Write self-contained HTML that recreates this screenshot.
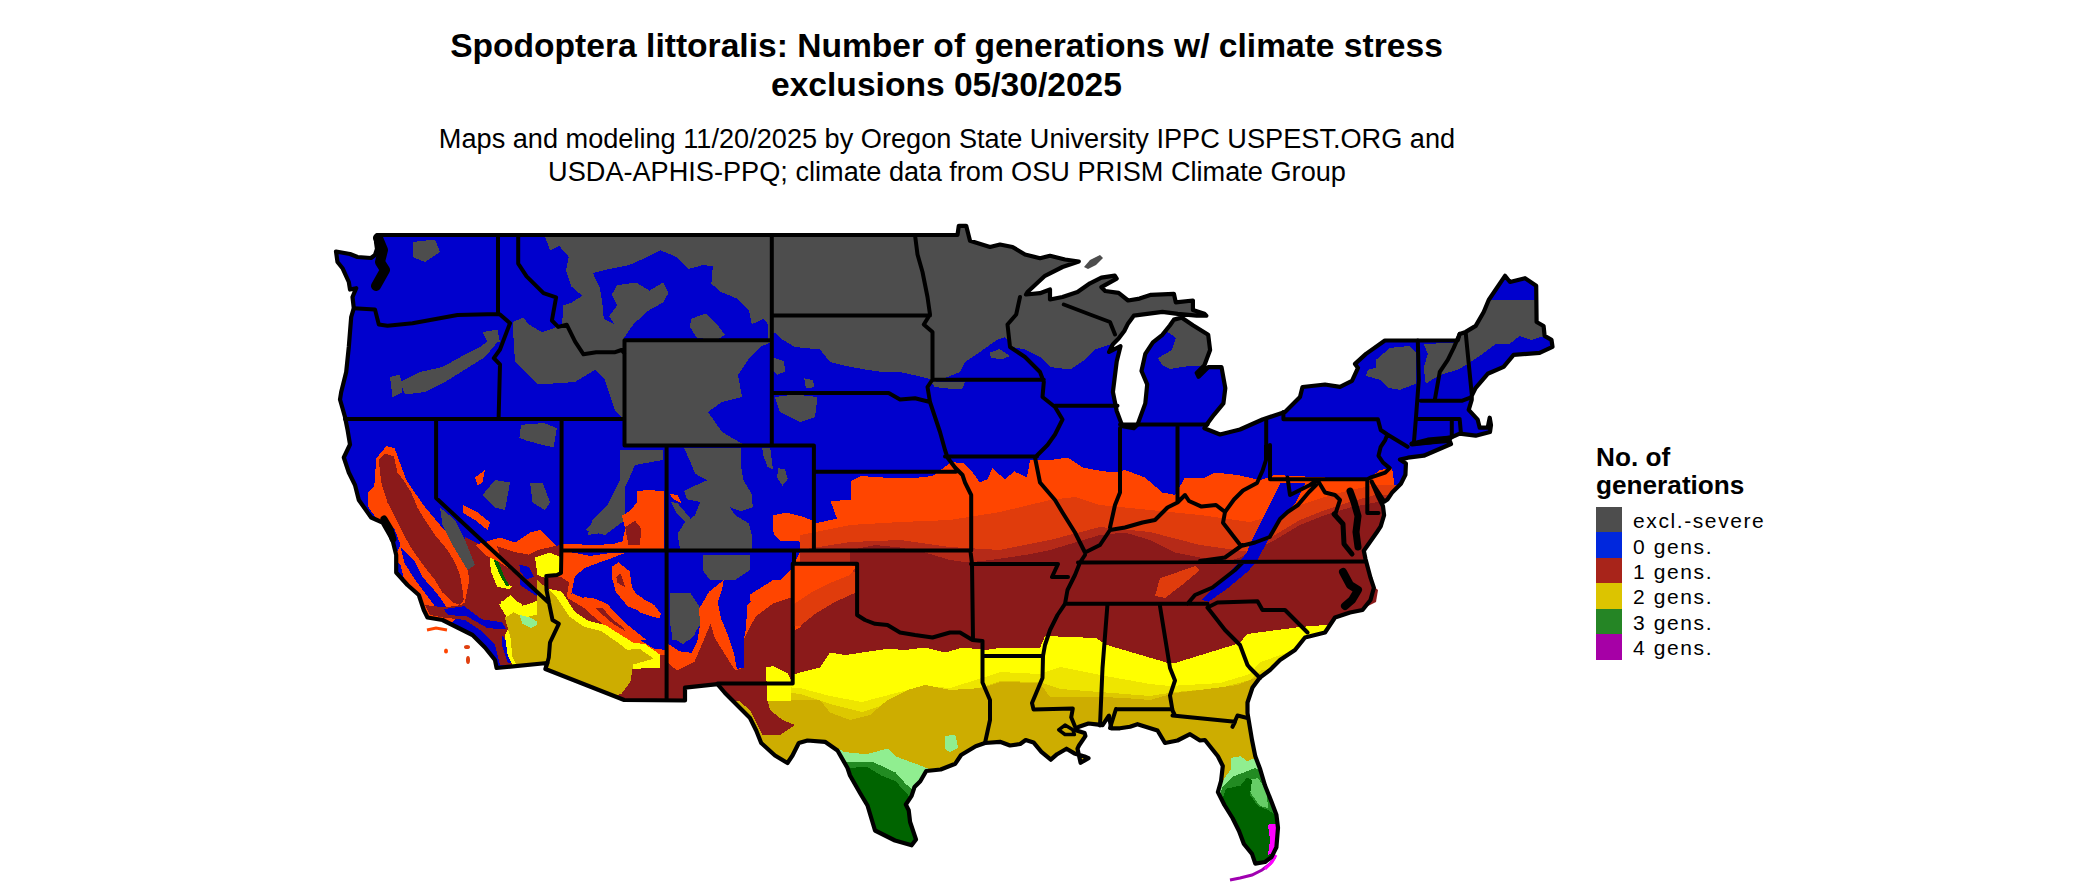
<!DOCTYPE html>
<html><head><meta charset="utf-8">
<style>
html,body{margin:0;padding:0;background:#fff;width:2100px;height:892px;overflow:hidden;position:relative}
.t{position:absolute;font-family:"Liberation Sans",sans-serif;white-space:nowrap;color:#000;line-height:1}
.title{font-weight:bold;font-size:33.6px;left:0;width:1893px;text-align:center}
.sub{font-size:27.15px;left:0;width:1894px;text-align:center}
.lt{font-weight:bold;font-size:26.2px;left:1596px}
.lab{font-size:21px;left:1633px;letter-spacing:1.6px}
.sw{position:absolute;left:1596px;width:26px;height:25.6px}
</style></head><body>
<svg width="2100" height="892" viewBox="0 0 2100 892" style="position:absolute;left:0;top:0">
<defs><clipPath id="land"><path d="M336.0,251.5 L350.0,254.0 L357.5,257.0 L371.0,258.0 L375.0,255.0 L377.0,249.0 L376.0,242.0 L377.0,235.0 L957.5,235.0 L958.8,225.8 L966.2,225.8 L970.0,240.8 L990.0,247.0 L1000.0,244.5 L1012.5,247.0 L1025.0,254.5 L1040.0,258.2 L1050.0,255.8 L1065.0,259.5 L1078.8,261.5 L1062.5,267.0 L1045.0,275.8 L1027.5,292.0 L1026.0,294.5 L1040.0,293.2 L1050.0,289.5 L1050.0,299.5 L1062.5,297.0 L1077.5,292.0 L1090.0,283.3 L1101.4,277.6 L1114.8,275.7 L1116.7,278.6 L1101.4,287.2 L1105.2,291.0 L1118.6,292.9 L1128.1,300.5 L1139.6,298.6 L1151.0,294.8 L1173.9,293.8 L1175.8,302.4 L1192.9,300.5 L1192.9,310.0 L1204.4,313.8 L1206.3,315.7 L1196.7,315.7 L1177.7,313.8 L1162.4,311.9 L1147.2,313.8 L1133.8,315.7 L1128.1,323.4 L1124.3,331.0 L1118.6,338.6 L1112.9,344.3 L1109.1,352.0 L1120.5,346.2 L1116.7,361.5 L1114.8,376.7 L1112.9,392.0 L1116.7,411.0 L1122.4,426.3 L1133.8,428.2 L1137.6,424.4 L1145.3,403.4 L1147.2,384.4 L1141.5,371.0 L1145.3,353.9 L1152.9,342.4 L1162.4,334.8 L1170.0,325.3 L1173.9,319.6 L1181.5,317.6 L1192.9,325.3 L1208.2,334.8 L1210.1,350.0 L1204.4,365.3 L1196.7,372.9 L1198.6,376.7 L1208.2,367.2 L1221.5,367.2 L1225.3,388.2 L1223.4,403.4 L1213.9,414.8 L1208.2,422.5 L1204.4,428.2 L1220.0,434.5 L1240.0,429.5 L1262.5,419.5 L1285.0,412.0 L1300.0,397.0 L1302.5,387.0 L1325.0,384.5 L1340.0,386.8 L1352.0,380.8 L1358.0,367.9 L1355.0,363.9 L1366.0,353.9 L1384.9,340.5 L1457.7,340.5 L1459.7,333.9 L1465.7,331.9 L1475.7,325.9 L1483.7,312.0 L1488.7,300.0 L1505.0,275.8 L1510.0,282.0 L1525.0,278.2 L1536.2,285.8 L1536.6,322.0 L1543.6,326.0 L1544.6,335.9 L1551.5,339.9 L1552.5,346.9 L1539.6,352.9 L1513.6,354.9 L1503.6,366.9 L1487.7,373.8 L1475.7,387.8 L1471.7,395.8 L1471.7,399.8 L1468.7,409.8 L1477.7,419.7 L1479.7,427.7 L1487.7,427.7 L1489.7,417.7 L1491.0,425.0 L1490.0,432.0 L1475.7,435.7 L1459.7,433.7 L1450.8,437.7 L1427.8,439.7 L1411.8,443.7 L1449.8,441.0 L1451.0,444.0 L1423.8,455.7 L1407.9,457.7 L1399.9,459.6 L1405.9,463.6 L1405.4,474.8 L1400.9,483.8 L1391.9,492.8 L1387.4,499.5 L1384.1,501.7 L1378.5,492.8 L1374.0,486.0 L1371.7,481.6 L1374.0,487.0 L1378.5,497.3 L1383.0,506.2 L1384.1,515.2 L1380.7,526.4 L1377.0,532.0 L1363.8,550.8 L1365.5,559.0 L1370.5,577.7 L1373.9,587.8 L1370.5,600.0 L1362.5,610.0 L1350.0,612.5 L1335.0,617.5 L1325.0,632.5 L1315.0,635.0 L1305.0,637.5 L1295.0,650.0 L1280.0,660.0 L1270.0,670.0 L1260.0,677.5 L1252.5,687.5 L1247.5,702.5 L1247.5,713.0 L1252.0,740.0 L1255.3,756.3 L1260.2,769.3 L1265.0,785.5 L1271.5,801.8 L1276.4,814.8 L1278.0,827.8 L1276.4,847.3 L1271.5,857.1 L1265.0,862.0 L1255.3,863.6 L1252.0,853.8 L1243.9,844.0 L1239.0,831.0 L1232.5,818.0 L1224.4,805.0 L1217.9,792.0 L1221.1,780.7 L1222.8,766.0 L1217.9,756.3 L1204.9,740.0 L1200.0,740.5 L1190.0,734.2 L1177.5,740.5 L1165.0,743.0 L1157.5,730.5 L1137.5,724.2 L1130.0,726.7 L1119.9,728.3 L1111.3,728.3 L1108.9,715.7 L1102.6,725.1 L1096.3,724.3 L1088.5,723.5 L1079.0,726.7 L1075.0,730.0 L1084.6,733.0 L1085.4,736.1 L1079.0,745.5 L1077.5,748.7 L1080.6,762.8 L1088.5,758.1 L1084.6,756.5 L1074.4,753.4 L1066.5,748.7 L1057.1,754.2 L1050.8,759.7 L1041.4,751.8 L1033.5,742.4 L1025.7,740.0 L1020.2,744.0 L1010.0,745.5 L1000.0,741.8 L985.0,743.0 L975.7,746.2 L961.1,755.0 L955.3,763.7 L940.7,769.5 L926.2,771.0 L920.3,781.2 L914.5,787.0 L911.6,795.8 L905.8,804.5 L908.7,810.3 L910.1,822.0 L916.0,839.5 L911.6,845.3 L895.0,840.5 L875.0,830.5 L867.5,805.5 L860.0,793.0 L850.0,775.5 L847.5,768.0 L837.5,750.5 L825.0,741.8 L807.5,740.5 L798.8,743.0 L792.5,755.5 L787.5,763.0 L775.0,755.5 L761.2,743.0 L756.2,730.5 L750.0,718.0 L737.5,705.5 L725.0,693.0 L717.5,684.2 L685.0,687.7 L685.0,700.5 L624.2,700.0 L545.4,669.0 L547.3,663.0 L496.6,668.0 L495.0,660.0 L485.0,647.5 L472.5,635.0 L457.5,627.5 L442.5,620.0 L427.5,617.5 L423.8,610.0 L418.8,595.0 L407.5,585.0 L396.2,572.5 L396.2,555.0 L392.5,540.0 L382.5,522.5 L371.2,517.5 L358.8,500.0 L355.0,485.0 L348.8,472.5 L343.8,457.5 L350.0,444.5 L347.5,429.5 L345.0,417.0 L340.0,399.5 L341.2,392.0 L346.2,372.0 L348.8,347.0 L351.2,317.0 L353.8,308.2 L352.5,297.0 L356.2,288.2 L350.0,289.5 L348.8,282.0 L342.5,268.2 L337.5,262.0 Z"/></clipPath></defs>
<path d="M1084,267 L1090,260 L1100,255 L1103,258 L1096,265 L1088,269 Z" fill="#4d4d4d"/><path d="M1230,880 L1240,878 L1252,875 L1262,870 L1270,864 L1275,857" fill="none" stroke="#a000b0" stroke-width="3"/><path d="M1265,869 L1272,862 L1276,855" fill="none" stroke="#ff00ff" stroke-width="3"/><path d="M427,630 L436,628 L447,630" fill="none" stroke="#ff4500" stroke-width="3"/><ellipse cx="446" cy="651" rx="2" ry="2.5" fill="#ff4500"/><ellipse cx="467" cy="647" rx="3" ry="2" fill="#e04010"/><ellipse cx="468" cy="660" rx="2" ry="4" fill="#e04010"/><path d="M1372,585 L1378,590 L1376,602 L1368,606 Z" fill="#8b1a1a"/>
<g clip-path="url(#land)" shape-rendering="crispEdges">
<rect x="300" y="200" width="1300" height="700" fill="#0000cd"/>
<path d="M530.0,220.0 L1100.0,220.0 L1210.0,300.0 L1215.0,330.0 L1212.0,352.0 L1204.0,366.0 L1189.0,366.0 L1170.0,369.0 L1162.0,365.0 L1158.0,358.0 L1172.0,350.0 L1176.0,338.0 L1165.0,330.0 L1150.0,330.0 L1135.0,345.0 L1115.0,342.0 L1110.0,344.5 L1095.0,349.5 L1085.0,359.5 L1070.0,369.5 L1050.0,367.0 L1040.0,357.0 L1025.0,349.5 L1012.5,347.0 L1005.0,337.0 L997.5,339.5 L980.0,352.0 L965.0,362.0 L960.0,372.0 L935.0,382.0 L927.5,378.2 L900.0,372.0 L882.5,372.0 L865.0,369.5 L845.0,365.8 L830.0,362.0 L820.0,349.5 L795.0,347.0 L782.5,339.5 L773.8,332.0 L771.2,342.0 L760.0,347.0 L748.0,360.0 L738.0,375.0 L742.0,397.0 L722.0,402.0 L708.0,412.0 L722.0,432.0 L745.0,445.4 L624.5,445.4 L624.5,420.0 L615.0,410.0 L605.0,380.0 L595.0,370.0 L575.0,382.0 L537.5,384.5 L515.0,362.0 L512.5,322.0 L530.0,315.0 L545.0,300.0 L540.0,270.0 Z" fill="#4d4d4d"/><path d="M517.7,235.4 L544.6,235.4 L550.0,250.2 L559.4,246.1 L568.8,256.9 L566.1,270.4 L571.5,286.5 L582.3,295.9 L571.5,302.6 L563.4,305.3 L562.1,324.2 L554.0,328.2 L541.9,332.2 L528.5,324.2 L517.7,310.7 Z" fill="#0000cd"/><path d="M593.0,273.1 L609.2,269.0 L629.4,265.0 L644.2,258.3 L660.3,250.2 L676.4,256.9 L688.6,269.0 L703.3,265.0 L712.8,266.3 L711.4,283.8 L720.8,291.9 L737.0,298.6 L749.1,310.7 L751.8,324.2 L763.9,318.8 L767.9,324.2 L767.9,340.3 L622.6,340.3 L633.4,324.2 L648.2,310.7 L663.0,302.6 L668.4,293.2 L663.0,282.5 L649.5,290.5 L636.1,282.5 L617.2,285.2 L611.9,294.6 L617.2,305.3 L609.2,316.1 L614.6,324.2 L603.8,318.8 L602.4,304.0 L599.8,287.9 L595.7,279.8 Z" fill="#0000cd"/><path d="M691.2,318.8 L706.0,313.4 L716.8,324.2 L724.9,334.9 L716.8,340.3 L696.6,337.6 L689.9,326.9 Z" fill="#4d4d4d"/><path d="M400.0,382.0 L420.0,372.0 L442.5,367.0 L465.0,354.5 L480.0,347.0 L490.0,339.5 L497.5,342.0 L485.0,357.0 L465.0,369.5 L445.0,382.0 L425.0,392.0 L405.0,394.5 Z" fill="#4d4d4d"/><path d="M482.5,332.0 L497.5,329.5 L500.0,342.0 L487.5,342.0 Z" fill="#4d4d4d"/><path d="M412.5,242.0 L435.0,239.5 L440.0,252.0 L425.0,262.0 L412.5,257.0 Z" fill="#4d4d4d"/><path d="M390.0,377.0 L400.0,374.5 L402.5,392.0 L392.5,397.0 Z" fill="#4d4d4d"/><path d="M775.0,397.0 L795.0,394.5 L817.5,397.0 L815.0,417.0 L800.0,422.0 L780.0,412.0 Z" fill="#4d4d4d"/><path d="M773.4,357.7 L783.7,361.1 L785.4,371.4 L776.9,374.9 L773.4,371.4 Z" fill="#4d4d4d"/><path d="M804.3,378.3 L812.9,380.0 L814.6,386.9 L806.0,388.6 Z" fill="#4d4d4d"/><path d="M931.2,381.7 L965.4,381.7 L962.0,388.6 L948.3,388.6 L934.6,386.9 Z" fill="#4d4d4d"/><path d="M989.4,352.6 L999.7,349.1 L1010.0,356.0 L1001.4,359.4 L991.2,357.7 Z" fill="#4d4d4d"/><path d="M684.2,448.1 L740.7,448.1 L740.7,464.2 L743.4,480.3 L751.5,493.8 L752.8,507.2 L740.7,511.3 L729.9,507.2 L735.3,515.3 L748.8,523.4 L751.5,534.1 L751.5,550.3 L680.2,550.3 L677.5,534.1 L684.2,523.4 L695.0,515.3 L700.3,501.9 L686.9,499.2 L684.2,491.1 L695.0,485.7 L707.1,480.3 L695.0,473.6 L689.6,460.2 Z" fill="#4d4d4d"/><path d="M762.2,448.1 L770.3,448.1 L773.0,469.6 L767.6,466.9 L763.6,456.1 Z" fill="#4d4d4d"/><path d="M778.4,468.2 L785.1,469.6 L787.8,479.0 L782.4,485.7 L777.0,477.7 Z" fill="#4d4d4d"/><path d="M670.8,501.9 L677.5,503.2 L692.3,520.7 L686.9,523.4 L676.1,512.6 Z" fill="#4d4d4d"/><path d="M773.0,515.3 L786.4,512.6 L802.6,516.7 L813.3,520.7 L813.3,550.3 L801.2,550.3 L802.6,536.8 L791.8,534.1 L778.4,539.5 L773.0,531.5 Z" fill="#ff4500"/><path d="M669.4,493.8 L677.5,495.1 L681.5,503.2 L673.4,499.2 Z" fill="#ff4500"/><path d="M702.5,555.0 L750.0,555.0 L750.0,570.0 L735.0,580.0 L710.0,580.0 L702.5,570.0 Z" fill="#4d4d4d"/><path d="M670.0,592.5 L690.0,592.5 L700.0,607.5 L700.0,625.0 L690.0,640.0 L672.5,640.0 L670.0,620.0 Z" fill="#4d4d4d"/><path d="M620.0,450.0 L662.5,450.0 L662.5,460.0 L635.0,465.0 L627.5,482.5 L617.5,500.0 L615.0,520.0 L605.0,532.5 L587.5,535.0 L592.5,520.0 L607.5,505.0 L620.0,480.0 Z" fill="#4d4d4d"/><path d="M1375.9,359.9 L1389.9,347.9 L1409.8,345.9 L1415.8,351.9 L1415.8,383.8 L1399.9,389.8 L1387.9,387.8 L1379.9,379.8 L1365.9,375.8 L1367.9,369.8 L1375.9,367.9 Z" fill="#4d4d4d"/><path d="M1423.8,343.9 L1455.7,342.9 L1459.7,333.9 L1467.7,331.9 L1483.7,312.0 L1488.7,300.0 L1536.6,300.0 L1536.6,322.0 L1543.6,325.9 L1544.5,335.9 L1531.6,339.9 L1519.6,335.9 L1509.6,343.9 L1495.7,343.9 L1479.7,355.9 L1467.7,363.9 L1457.7,369.8 L1443.8,373.8 L1431.8,379.8 L1425.8,383.8 L1423.8,367.9 L1427.8,353.9 Z" fill="#4d4d4d"/><path d="M774.0,534.0 L772.6,518.5 L785.0,513.8 L800.8,517.0 L811.8,520.0 L816.5,523.2 L836.9,518.5 L830.6,501.2 L851.0,499.7 L851.0,480.8 L860.5,476.0 L885.6,477.7 L917.0,477.7 L932.7,476.0 L951.5,462.0 L964.0,463.5 L972.0,471.4 L979.8,482.4 L987.6,479.2 L992.3,468.3 L1004.9,479.2 L1014.3,471.4 L1026.9,477.7 L1030.0,460.4 L1050.0,460.0 L1067.5,457.5 L1082.5,467.5 L1095.0,470.0 L1112.5,472.5 L1125.0,470.0 L1145.0,477.5 L1162.5,492.5 L1175.0,495.0 L1185.0,477.5 L1205.0,477.5 L1215.0,472.5 L1237.5,475.0 L1260.0,480.0 L1275.0,475.0 L1325.0,477.5 L1370.0,477.5 L1380.0,470.0 L1392.0,467.7 L1394.5,485.0 L1386.0,498.0 L1384.0,510.0 L1420.0,600.0 L1420.0,900.0 L700.0,900.0 L700.0,700.0 L745.0,668.0 L745.0,640.0 L747.5,605.0 L760.0,592.5 L780.0,580.0 L792.5,567.5 L800.8,550.0 L799.2,540.5 L780.4,540.5 Z" fill="#ff4500"/><path d="M800.0,600.0 L800.0,535.0 L850.0,525.0 L900.0,522.0 L950.0,520.0 L1000.0,512.0 L1050.0,500.0 L1075.0,497.0 L1100.0,505.0 L1150.0,510.0 L1200.0,515.0 L1250.0,522.0 L1275.0,515.0 L1300.0,505.0 L1325.0,497.0 L1350.0,490.0 L1375.0,485.0 L1420.0,485.0 L1420.0,600.0 Z" fill="#e03c0c"/><path d="M800.0,600.0 L800.0,550.0 L850.0,542.0 L900.0,540.0 L950.0,547.0 L1000.0,550.0 L1050.0,540.0 L1100.0,527.0 L1150.0,532.0 L1200.0,545.0 L1250.0,552.0 L1275.0,535.0 L1300.0,520.0 L1325.0,510.0 L1350.0,502.0 L1375.0,495.0 L1420.0,495.0 L1420.0,600.0 Z" fill="#b52a18"/><path d="M850.0,550.0 L875.0,545.0 L900.0,547.5 L925.0,552.5 L950.0,560.0 L967.5,562.5 L990.0,560.0 L1025.0,555.0 L1050.0,550.0 L1075.0,542.5 L1100.0,535.0 L1125.0,532.5 L1150.0,540.0 L1175.0,552.5 L1200.0,557.5 L1225.0,562.5 L1240.0,557.5 L1275.0,540.0 L1300.0,525.0 L1325.0,515.0 L1350.0,507.5 L1375.0,502.5 L1420.0,500.0 L1420.0,900.0 L700.0,900.0 L700.0,690.0 L752.5,668.0 L757.5,620.0 L772.5,605.0 L792.5,595.0 L795.0,630.0 L800.0,627.5 L812.5,610.0 L825.0,590.0 L850.0,580.0 L857.5,567.5 L850.0,565.0 Z" fill="#8b1a1a"/><path d="M1160.0,578.0 L1178.0,572.0 L1195.0,566.0 L1200.0,570.0 L1182.0,585.0 L1165.0,598.0 L1155.0,596.0 Z" fill="#e03c0c"/><path d="M1280.4,483.3 L1269.7,504.8 L1259.0,526.4 L1251.7,540.7 L1246.4,553.3 L1233.8,567.6 L1215.9,585.6 L1201.5,599.9 L1208.7,601.7 L1226.6,589.1 L1248.2,571.2 L1257.1,560.4 L1269.7,537.1 L1280.4,519.2 L1296.6,501.3 L1305.6,483.3 Z" fill="#0000cd"/><path d="M857.0,572.0 L857.0,592.0 L835.0,602.0 L815.0,614.0 L800.0,626.0 L794.0,626.0 L794.0,566.0 Z" fill="#e03c0c"/><path d="M794.0,566.0 L857.0,566.0 L850.0,575.0 L830.0,583.0 L812.0,592.0 L800.0,600.0 L794.0,604.0 Z" fill="#ff4500"/><path d="M700.0,900.0 L700.0,700.0 L740.0,690.0 L766.2,670.0 L775.0,667.5 L785.0,677.5 L800.0,672.5 L820.0,667.5 L830.0,652.5 L845.0,655.0 L862.5,652.5 L887.5,648.8 L905.0,650.0 L925.0,647.5 L945.0,652.5 L962.5,647.5 L985.0,650.0 L1000.0,648.0 L1040.0,648.0 L1045.0,636.0 L1096.0,638.0 L1107.0,645.0 L1168.0,663.0 L1175.0,663.0 L1240.0,643.0 L1247.0,634.0 L1300.0,627.0 L1325.0,625.0 L1420.0,620.0 L1420.0,900.0 Z" fill="#ffff00"/><path d="M700.0,900.0 L700.0,705.0 L767.0,686.0 L800.0,688.0 L830.0,696.0 L862.0,702.0 L900.0,692.0 L925.0,686.0 L950.0,688.0 L982.0,678.0 L1000.0,672.0 L1040.0,674.0 L1060.0,667.0 L1100.0,675.0 L1150.0,684.0 L1170.0,686.0 L1220.0,683.0 L1250.0,674.0 L1260.0,662.0 L1290.0,652.0 L1320.0,642.0 L1420.0,642.0 L1420.0,900.0 Z" fill="#eee500"/><path d="M700.0,900.0 L700.0,705.0 L767.0,690.0 L800.0,694.0 L830.0,704.0 L862.0,712.0 L900.0,700.0 L925.0,694.0 L950.0,696.0 L982.0,687.0 L1000.0,681.0 L1040.0,682.0 L1060.0,689.0 L1100.0,692.0 L1150.0,696.0 L1175.0,692.0 L1220.0,688.0 L1250.0,680.0 L1262.0,670.0 L1420.0,655.0 L1420.0,900.0 Z" fill="#ddc700"/><path d="M700.0,900.0 L700.0,700.0 L767.5,690.0 L782.5,700.0 L820.0,700.0 L830.0,712.5 L850.0,720.0 L870.0,715.0 L887.5,700.0 L907.5,690.0 L925.0,685.0 L950.0,690.0 L982.5,688.0 L1000.0,682.0 L1040.0,683.0 L1050.0,697.0 L1075.0,697.0 L1100.0,697.0 L1125.0,698.0 L1150.0,700.0 L1175.0,693.0 L1200.0,690.0 L1237.5,685.0 L1262.5,675.0 L1420.0,660.0 L1420.0,900.0 Z" fill="#cdad00"/><path d="M766.0,670.0 L765.0,690.0 L770.0,710.0 L782.5,720.0 L795.0,725.0 L780.0,735.0 L762.5,735.0 L750.0,710.0 L722.5,687.5 L700.0,680.0 Z" fill="#8b1a1a"/><path d="M822.7,740.4 L844.6,752.1 L866.4,754.2 L888.3,748.4 L895.6,756.4 L911.6,762.3 L923.3,766.6 L932.0,770.3 L929.1,778.3 L932.0,851.1 L822.7,851.1 Z" fill="#90ee90"/><path d="M945.1,736.0 L955.3,734.6 L958.2,747.7 L949.5,752.1 L945.1,749.1 Z" fill="#90ee90"/><path d="M822.7,757.9 L844.6,762.3 L873.7,762.3 L895.6,772.5 L905.8,784.1 L913.1,789.9 L917.4,851.1 L822.7,851.1 Z" fill="#228b22"/><path d="M822.7,763.7 L848.9,768.1 L866.4,766.6 L881.0,775.4 L895.6,781.2 L908.7,795.8 L914.5,801.6 L917.4,851.1 L822.7,851.1 Z" fill="#006400"/><path d="M1190.0,900.0 L1222.8,780.7 L1230.9,769.3 L1230.9,757.9 L1240.7,756.3 L1247.2,761.1 L1255.3,757.9 L1260.2,769.3 L1300.0,900.0 Z" fill="#90ee90"/><path d="M1190.0,900.0 L1222.0,788.0 L1232.0,777.0 L1245.0,772.0 L1255.0,768.0 L1262.0,772.0 L1300.0,900.0 Z" fill="#228b22"/><path d="M1245.5,780.7 L1258.0,778.0 L1266.0,790.0 L1268.3,808.0 L1260.0,806.0 L1252.0,795.0 Z" fill="#66cd66"/><path d="M1190.0,900.0 L1226.0,788.8 L1240.7,785.5 L1247.2,777.4 L1252.0,780.0 L1250.0,795.0 L1258.0,806.0 L1268.3,810.0 L1274.8,814.8 L1300.0,900.0 Z" fill="#006400"/><path d="M1268.0,824.6 L1276.0,824.0 L1277.0,850.0 L1268.0,855.0 L1270.0,840.0 Z" fill="#ff00ff"/><path d="M376.3,458.2 L386.4,446.1 L394.5,448.1 L400.5,464.2 L406.6,480.4 L414.7,492.5 L424.7,506.6 L434.8,518.7 L444.9,530.8 L461.1,549.0 L469.1,565.1 L469.1,585.3 L465.1,605.5 L453.0,621.6 L426.8,621.6 L416.7,597.4 L404.6,581.2 L400.5,565.1 L390.4,553.0 L388.4,540.9 L380.4,524.7 L368.2,506.6 L368.2,492.5 L374.3,486.4 Z" fill="#ff4500"/><path d="M378.8,460.0 L385.0,453.8 L393.8,456.2 L397.5,472.5 L405.0,482.5 L411.2,492.5 L417.5,507.5 L425.0,520.0 L435.0,535.0 L447.5,550.0 L455.0,562.5 L460.0,575.0 L462.5,590.0 L463.8,600.0 L460.0,605.0 L452.5,602.5 L442.5,592.5 L435.0,580.0 L425.0,567.5 L412.5,550.0 L402.5,532.5 L395.0,517.5 L387.5,502.5 L381.2,482.5 Z" fill="#8b1a1a"/><path d="M400.5,546.9 L414.7,561.1 L422.7,577.2 L436.9,593.3 L446.9,607.5 L438.9,611.5 L426.8,595.4 L414.7,579.2 L404.6,563.1 Z" fill="#0000cd"/><path d="M386.4,524.7 L394.5,528.8 L400.5,544.9 L396.5,553.0 L390.4,540.9 Z" fill="#0000cd"/><path d="M461.2,605.0 L475.0,595.0 L480.0,580.0 L490.0,575.0 L505.0,585.0 L520.0,585.0 L535.0,595.0 L547.5,605.0 L550.0,620.0 L550.0,665.0 L500.0,665.0 L495.0,645.0 L480.0,630.0 L465.0,620.0 L442.5,617.5 L430.0,615.0 L425.0,605.0 L445.0,607.5 Z" fill="#8b1a1a"/><path d="M465.1,536.9 L481.2,544.9 L493.3,553.0 L520.0,569.1 L520.0,620.0 L461.1,620.0 L465.1,601.4 L469.1,581.2 Z" fill="#8b1a1a"/><path d="M489.6,554.7 L497.0,558.4 L501.9,579.3 L511.8,586.7 L509.3,589.2 L497.0,586.7 L490.8,570.7 Z" fill="#ffff00"/><path d="M493.3,555.9 L497.0,558.4 L504.4,576.9 L509.3,585.5 L506.9,586.7 L500.7,576.9 L494.5,562.1 Z" fill="#006400"/><path d="M500.7,601.5 L511.8,599.1 L521.7,604.0 L524.1,611.4 L511.8,613.8 L501.9,608.9 Z" fill="#ffff00"/><path d="M519.2,564.5 L529.1,567.0 L534.0,576.9 L526.6,579.3 L520.4,571.9 Z" fill="#0000cd"/><path d="M443.7,609.1 L464.1,606.2 L481.6,619.3 L502.0,622.3 L506.4,629.5 L487.4,628.1 L467.0,616.4 L448.1,615.0 Z" fill="#0000cd"/><path d="M502.0,635.4 L510.7,647.0 L515.1,663.1 L507.8,663.1 L502.0,645.6 Z" fill="#0000cd"/><path d="M499.1,604.8 L510.7,594.6 L520.9,606.2 L531.1,603.3 L544.3,597.5 L547.2,588.7 L553.0,609.1 L560.3,623.7 L550.1,638.3 L547.2,649.9 L553.0,658.7 L547.2,666.0 L513.7,667.4 L507.8,655.8 L504.9,635.4 L510.7,623.7 Z" fill="#ffff00"/><path d="M504.9,617.9 L513.7,612.1 L523.9,617.9 L535.5,615.0 L545.7,612.1 L554.5,623.7 L547.2,638.3 L544.3,649.9 L550.1,658.7 L545.7,665.2 L516.6,666.0 L512.2,655.8 L510.7,638.3 Z" fill="#cdad00"/><path d="M519.5,615.0 L531.1,617.9 L539.9,623.7 L531.1,628.1 L522.4,623.7 Z" fill="#90ee90"/><path d="M475.0,545.0 L500.0,537.5 L515.0,542.5 L530.0,532.5 L540.0,530.0 L550.0,540.0 L561.2,550.0 L561.2,575.0 L550.0,587.5 L540.0,595.0 L525.0,580.0 L500.0,562.5 L485.0,555.0 Z" fill="#ff4500"/><path d="M535.0,557.5 L550.0,552.5 L561.2,557.5 L561.2,577.5 L550.0,580.0 L537.5,575.0 Z" fill="#ffff00"/><path d="M482.5,495.0 L495.0,480.0 L510.0,482.5 L505.0,510.0 L495.0,507.5 Z" fill="#4d4d4d"/><path d="M530.0,482.5 L542.5,482.5 L550.0,502.5 L545.0,510.0 L532.5,502.5 Z" fill="#4d4d4d"/><path d="M440.0,507.5 L455.0,520.0 L465.0,540.0 L475.0,565.0 L467.5,570.0 L452.5,545.0 L442.5,525.0 Z" fill="#4d4d4d"/><path d="M475.0,477.5 L485.0,470.0 L482.5,482.5 L477.5,485.0 Z" fill="#ff4500"/><path d="M462.5,505.0 L477.5,512.5 L490.0,522.5 L487.5,530.0 L475.0,520.0 L462.5,512.5 Z" fill="#ff4500"/><path d="M497.0,546.0 L515.5,552.2 L529.1,554.7 L538.9,549.7 L561.1,544.8 L561.1,575.6 L546.3,575.6 L548.8,601.5 L534.0,588.0 L515.5,570.7 L500.7,557.1 Z" fill="#8b1a1a"/><path d="M535.0,557.5 L550.0,552.5 L561.2,557.5 L561.2,577.5 L550.0,580.0 L537.5,575.0 Z" fill="#ffff00"/><path d="M519.2,564.5 L529.1,567.0 L534.0,576.9 L526.6,579.3 L520.4,571.9 Z" fill="#0000cd"/><path d="M585.0,530.0 L600.0,515.0 L612.5,500.0 L620.0,480.0 L625.0,465.0 L625.0,520.0 L605.0,535.0 Z" fill="#4d4d4d"/><path d="M561.0,551.0 L575.0,553.0 L590.0,556.0 L610.0,553.0 L625.0,553.0 L612.0,558.0 L598.0,563.0 L585.0,568.0 L575.0,576.0 L571.0,596.0 L580.0,609.5 L589.0,620.7 L596.0,629.7 L603.0,640.0 L550.0,640.0 L560.0,623.0 L551.0,607.0 L547.0,574.8 L561.0,573.6 Z" fill="#ff4500"/><path d="M561.3,577.0 L569.1,582.6 L566.9,596.1 L573.6,607.3 L582.6,618.5 L589.3,629.7 L593.8,640.0 L550.1,640.0 L560.2,623.0 L551.2,607.3 L546.7,577.0 Z" fill="#8b1a1a"/><path d="M611.7,566.9 L618.5,562.4 L629.7,571.4 L631.9,587.1 L637.5,596.1 L646.5,600.5 L654.3,605.0 L661.1,614.0 L658.8,618.5 L640.9,612.9 L627.4,602.8 L618.5,591.6 L611.7,578.1 Z" fill="#ff4500"/><path d="M616.2,577.0 L620.7,573.6 L625.2,587.1 L631.9,596.1 L625.2,596.1 L618.5,587.1 Z" fill="#8b1a1a"/><path d="M584.8,597.2 L593.8,598.3 L607.3,603.9 L614.0,611.7 L625.2,623.0 L636.4,631.9 L646.5,640.0 L602.8,640.0 L596.1,629.7 L589.3,620.7 L580.4,609.5 L573.6,600.5 Z" fill="#ff4500"/><path d="M589.3,607.3 L602.8,608.4 L611.7,618.5 L623.0,627.4 L629.7,640.0 L602.8,640.0 L596.1,629.7 L589.3,620.7 Z" fill="#8b1a1a"/><path d="M605.0,546.7 L618.5,542.2 L640.9,543.4 L652.1,549.0 L664.4,546.7 L664.4,552.3 L605.0,552.3 Z" fill="#ff4500"/><path d="M540.0,593.8 L546.7,602.8 L553.5,609.5 L564.7,618.5 L575.9,625.2 L587.1,627.4 L598.3,634.2 L605.0,640.0 L540.0,640.0 Z" fill="#ffff00"/><path d="M540.0,607.3 L549.0,614.0 L557.9,620.7 L569.1,628.6 L580.4,633.0 L589.3,640.0 L540.0,640.0 Z" fill="#cdad00"/><path d="M636.5,491.4 L647.9,489.8 L664.1,491.4 L664.1,550.8 L563.3,550.8 L563.3,543.5 L592.6,545.1 L621.9,543.5 L625.1,528.8 L621.9,515.8 L630.0,510.9 L636.5,502.8 Z" fill="#ff4500"/><path d="M625.1,527.2 L634.9,520.7 L641.4,528.8 L639.8,545.1 L628.4,545.1 Z" fill="#8b1a1a"/><path d="M521.1,424.8 L543.8,423.1 L556.8,428.0 L553.6,447.5 L540.6,444.3 L527.6,441.0 L519.4,437.8 Z" fill="#4d4d4d"/><path d="M666.2,642.7 L679.9,651.4 L691.6,652.9 L697.4,641.2 L700.3,623.7 L698.9,609.2 L709.1,591.7 L723.7,580.0 L722.2,588.7 L717.8,601.9 L720.8,617.9 L728.0,635.4 L733.9,652.9 L736.8,668.9 L744.1,667.5 L747.0,701.0 L666.2,701.0 Z" fill="#ff4500"/><path d="M749.9,594.6 L773.2,580.0 L790.7,580.0 L790.7,701.0 L747.0,701.0 L744.1,667.5 L744.1,638.3 L747.0,623.7 L751.4,609.2 Z" fill="#ff4500"/><path d="M666.2,661.6 L677.0,670.4 L694.5,661.6 L703.3,641.2 L710.6,623.7 L714.9,638.3 L729.5,661.6 L735.3,670.4 L744.1,667.5 L747.0,701.0 L666.2,701.0 Z" fill="#8b1a1a"/><path d="M744.1,638.3 L755.7,616.4 L773.2,603.3 L790.7,597.5 L790.7,701.0 L744.1,701.0 Z" fill="#8b1a1a"/><path d="M572.1,593.1 L588.1,600.4 L601.2,613.5 L612.9,623.7 L627.5,632.5 L642.0,641.2 L653.7,648.5 L666.2,650.0 L666.2,655.8 L650.8,652.9 L639.1,647.1 L624.5,638.3 L610.0,629.6 L596.9,619.4 L583.7,607.7 L569.2,599.0 Z" fill="#ff4500"/><path d="M569.2,599.0 L583.7,607.7 L596.9,619.4 L610.0,629.6 L624.5,638.3 L639.1,647.1 L650.8,652.9 L666.2,655.8 L666.2,701.0 L621.6,702.4 L612.9,696.6 L621.6,693.7 L630.4,682.0 L633.3,664.5 L653.7,658.7 L639.1,648.5 L627.5,650.0 L615.8,641.2 L601.2,631.0 L583.7,626.6 L569.2,616.4 L554.6,594.6 L561.9,594.6 Z" fill="#8b1a1a"/><path d="M548.7,588.7 L561.9,591.7 L575.0,612.1 L588.1,620.8 L605.6,625.2 L621.6,635.4 L633.3,642.7 L645.0,644.1 L659.5,654.3 L659.5,667.5 L633.3,668.9 L630.4,661.6 L615.8,650.0 L601.2,638.3 L583.7,632.5 L567.7,622.3 L553.1,603.3 Z" fill="#ffff00"/><path d="M537.1,580.0 L554.6,594.6 L569.2,616.4 L583.7,626.6 L601.2,631.0 L615.8,641.2 L627.5,650.0 L639.1,648.5 L653.7,658.7 L633.3,664.5 L630.4,682.0 L621.6,693.7 L612.9,696.6 L621.6,702.4 L544.4,670.4 L537.1,661.6 Z" fill="#cdad00"/><path d="M612.9,580.0 L627.5,588.7 L642.0,597.5 L661.0,613.5 L659.5,617.9 L642.0,612.1 L627.5,606.2 L615.8,591.7 Z" fill="#ff4500"/><path d="M671.2,601.9 L682.9,597.5 L694.5,603.3 L697.4,617.9 L694.5,635.4 L682.9,644.1 L674.1,638.3 L669.7,623.7 Z" fill="#4d4d4d"/><path d="M765.9,667.5 L773.2,666.0 L787.8,673.3 L790.7,679.1 L790.7,701.0 L767.4,701.0 Z" fill="#ffff00"/>
</g>
<path d="M336.0,251.5 L350.0,254.0 L357.5,257.0 L371.0,258.0 L375.0,255.0 L377.0,249.0 L376.0,242.0 L377.0,235.0 L957.5,235.0 L958.8,225.8 L966.2,225.8 L970.0,240.8 L990.0,247.0 L1000.0,244.5 L1012.5,247.0 L1025.0,254.5 L1040.0,258.2 L1050.0,255.8 L1065.0,259.5 L1078.8,261.5 L1062.5,267.0 L1045.0,275.8 L1027.5,292.0 L1026.0,294.5 L1040.0,293.2 L1050.0,289.5 L1050.0,299.5 L1062.5,297.0 L1077.5,292.0 L1090.0,283.3 L1101.4,277.6 L1114.8,275.7 L1116.7,278.6 L1101.4,287.2 L1105.2,291.0 L1118.6,292.9 L1128.1,300.5 L1139.6,298.6 L1151.0,294.8 L1173.9,293.8 L1175.8,302.4 L1192.9,300.5 L1192.9,310.0 L1204.4,313.8 L1206.3,315.7 L1196.7,315.7 L1177.7,313.8 L1162.4,311.9 L1147.2,313.8 L1133.8,315.7 L1128.1,323.4 L1124.3,331.0 L1118.6,338.6 L1112.9,344.3 L1109.1,352.0 L1120.5,346.2 L1116.7,361.5 L1114.8,376.7 L1112.9,392.0 L1116.7,411.0 L1122.4,426.3 L1133.8,428.2 L1137.6,424.4 L1145.3,403.4 L1147.2,384.4 L1141.5,371.0 L1145.3,353.9 L1152.9,342.4 L1162.4,334.8 L1170.0,325.3 L1173.9,319.6 L1181.5,317.6 L1192.9,325.3 L1208.2,334.8 L1210.1,350.0 L1204.4,365.3 L1196.7,372.9 L1198.6,376.7 L1208.2,367.2 L1221.5,367.2 L1225.3,388.2 L1223.4,403.4 L1213.9,414.8 L1208.2,422.5 L1204.4,428.2 L1220.0,434.5 L1240.0,429.5 L1262.5,419.5 L1285.0,412.0 L1300.0,397.0 L1302.5,387.0 L1325.0,384.5 L1340.0,386.8 L1352.0,380.8 L1358.0,367.9 L1355.0,363.9 L1366.0,353.9 L1384.9,340.5 L1457.7,340.5 L1459.7,333.9 L1465.7,331.9 L1475.7,325.9 L1483.7,312.0 L1488.7,300.0 L1505.0,275.8 L1510.0,282.0 L1525.0,278.2 L1536.2,285.8 L1536.6,322.0 L1543.6,326.0 L1544.6,335.9 L1551.5,339.9 L1552.5,346.9 L1539.6,352.9 L1513.6,354.9 L1503.6,366.9 L1487.7,373.8 L1475.7,387.8 L1471.7,395.8 L1471.7,399.8 L1468.7,409.8 L1477.7,419.7 L1479.7,427.7 L1487.7,427.7 L1489.7,417.7 L1491.0,425.0 L1490.0,432.0 L1475.7,435.7 L1459.7,433.7 L1450.8,437.7 L1427.8,439.7 L1411.8,443.7 L1449.8,441.0 L1451.0,444.0 L1423.8,455.7 L1407.9,457.7 L1399.9,459.6 L1405.9,463.6 L1405.4,474.8 L1400.9,483.8 L1391.9,492.8 L1387.4,499.5 L1384.1,501.7 L1378.5,492.8 L1374.0,486.0 L1371.7,481.6 L1374.0,487.0 L1378.5,497.3 L1383.0,506.2 L1384.1,515.2 L1380.7,526.4 L1377.0,532.0 L1363.8,550.8 L1365.5,559.0 L1370.5,577.7 L1373.9,587.8 L1370.5,600.0 L1362.5,610.0 L1350.0,612.5 L1335.0,617.5 L1325.0,632.5 L1315.0,635.0 L1305.0,637.5 L1295.0,650.0 L1280.0,660.0 L1270.0,670.0 L1260.0,677.5 L1252.5,687.5 L1247.5,702.5 L1247.5,713.0 L1252.0,740.0 L1255.3,756.3 L1260.2,769.3 L1265.0,785.5 L1271.5,801.8 L1276.4,814.8 L1278.0,827.8 L1276.4,847.3 L1271.5,857.1 L1265.0,862.0 L1255.3,863.6 L1252.0,853.8 L1243.9,844.0 L1239.0,831.0 L1232.5,818.0 L1224.4,805.0 L1217.9,792.0 L1221.1,780.7 L1222.8,766.0 L1217.9,756.3 L1204.9,740.0 L1200.0,740.5 L1190.0,734.2 L1177.5,740.5 L1165.0,743.0 L1157.5,730.5 L1137.5,724.2 L1130.0,726.7 L1119.9,728.3 L1111.3,728.3 L1108.9,715.7 L1102.6,725.1 L1096.3,724.3 L1088.5,723.5 L1079.0,726.7 L1075.0,730.0 L1084.6,733.0 L1085.4,736.1 L1079.0,745.5 L1077.5,748.7 L1080.6,762.8 L1088.5,758.1 L1084.6,756.5 L1074.4,753.4 L1066.5,748.7 L1057.1,754.2 L1050.8,759.7 L1041.4,751.8 L1033.5,742.4 L1025.7,740.0 L1020.2,744.0 L1010.0,745.5 L1000.0,741.8 L985.0,743.0 L975.7,746.2 L961.1,755.0 L955.3,763.7 L940.7,769.5 L926.2,771.0 L920.3,781.2 L914.5,787.0 L911.6,795.8 L905.8,804.5 L908.7,810.3 L910.1,822.0 L916.0,839.5 L911.6,845.3 L895.0,840.5 L875.0,830.5 L867.5,805.5 L860.0,793.0 L850.0,775.5 L847.5,768.0 L837.5,750.5 L825.0,741.8 L807.5,740.5 L798.8,743.0 L792.5,755.5 L787.5,763.0 L775.0,755.5 L761.2,743.0 L756.2,730.5 L750.0,718.0 L737.5,705.5 L725.0,693.0 L717.5,684.2 L685.0,687.7 L685.0,700.5 L624.2,700.0 L545.4,669.0 L547.3,663.0 L496.6,668.0 L495.0,660.0 L485.0,647.5 L472.5,635.0 L457.5,627.5 L442.5,620.0 L427.5,617.5 L423.8,610.0 L418.8,595.0 L407.5,585.0 L396.2,572.5 L396.2,555.0 L392.5,540.0 L382.5,522.5 L371.2,517.5 L358.8,500.0 L355.0,485.0 L348.8,472.5 L343.8,457.5 L350.0,444.5 L347.5,429.5 L345.0,417.0 L340.0,399.5 L341.2,392.0 L346.2,372.0 L348.8,347.0 L351.2,317.0 L353.8,308.2 L352.5,297.0 L356.2,288.2 L350.0,289.5 L348.8,282.0 L342.5,268.2 L337.5,262.0 Z" fill="none" stroke="#000" stroke-width="4.2" stroke-linejoin="round"/>
<path d="M378.0,238.0 L383.0,250.0 L380.0,262.0 L385.0,270.0 L376.0,286.0" fill="none" stroke="#000" stroke-width="10" stroke-linejoin="round" stroke-linecap="round"/><path d="M384.0,519.0 L390.0,529.0 L393.0,539.0" fill="none" stroke="#000" stroke-width="7" stroke-linejoin="round" stroke-linecap="round"/><path d="M1350.0,491.0 L1354.0,502.0 L1358.0,516.0 L1356.0,532.0 L1358.0,547.0" fill="none" stroke="#000" stroke-width="7" stroke-linejoin="round" stroke-linecap="round"/><path d="M1334.0,514.0 L1343.0,524.0 L1344.0,544.0 L1352.0,554.0" fill="none" stroke="#000" stroke-width="5" stroke-linejoin="round" stroke-linecap="round"/><path d="M1343.0,572.0 L1350.0,585.0 L1358.0,590.0 L1352.0,600.0 L1345.0,606.0" fill="none" stroke="#000" stroke-width="8" stroke-linejoin="round" stroke-linecap="round"/><path d="M1412.0,444.0 L1430.0,442.0 L1450.0,438.0" fill="none" stroke="#000" stroke-width="5" stroke-linejoin="round" stroke-linecap="round"/><path d="M1058.7,729.8 L1065.0,725.1 L1072.8,729.8 L1074.4,734.5 L1065.0,734.5 L1058.7,729.8" fill="none" stroke="#000" stroke-width="3.5" stroke-linejoin="round" stroke-linecap="round"/>
<path d="M353.8,308.2 L375.0,309.5 L378.8,324.5 L387.5,325.8 L412.5,323.2 L457.5,315.0 L497.5,314.0 L500.0,314.5 L510.0,323.2 M498.0,235.0 L498.0,314.0 M510.0,323.2 L500.0,349.5 L493.8,358.2 L500.0,364.5 L498.6,418.9 M345.0,418.9 L624.5,418.9 M436.1,418.9 L436.1,498.0 L549.0,603.0 L552.5,620.0 L558.8,623.8 L550.0,642.5 L548.8,657.5 L547.3,663.0 M548.8,601.5 L546.5,590.0 L546.3,576.0 L557.0,575.0 L561.0,573.0 L561.4,550.5 M561.6,418.9 L561.4,550.5 M518.2,235.0 L518.2,263.6 L526.6,276.3 L543.5,293.1 L556.1,297.3 L551.9,320.5 L558.2,326.9 L566.7,324.7 L575.1,341.6 L583.5,354.3 L596.2,352.2 L615.2,352.2 L621.5,350.0 L624.5,353.5 M624.5,340.3 L624.5,445.4 M624.5,340.3 L771.8,340.3 M771.8,235.0 L771.8,445.4 M624.5,445.4 L813.9,445.4 M666.6,445.4 L666.6,699.8 M561.4,550.5 L970.4,550.5 M813.9,445.4 L813.9,550.5 M813.9,471.7 L956.0,471.7 M794.0,550.5 L794.0,563.7 L857.1,563.7 M792.7,563.7 L792.7,683.5 L717.5,683.5 M857.1,563.7 L857.1,615.0 L865.0,620.0 L875.0,623.8 L887.5,625.0 L900.0,632.5 L915.0,635.0 L932.5,637.5 L950.0,632.5 L960.0,632.5 L972.5,640.0 L982.5,641.0 M970.4,550.5 L972.0,563.7 L973.0,640.0 M982.5,641.0 L982.5,656.0 M982.5,656.0 L1043.0,656.0 M982.5,656.0 L982.5,682.5 L990.0,700.0 L990.0,720.0 L985.0,743.0 M1065.0,603.8 L1057.5,615.0 L1050.0,630.0 L1045.0,645.0 L1043.0,656.0 L1042.5,678.0 L1036.2,693.0 L1032.0,703.0 L1033.5,709.4 L1072.8,708.6 L1071.2,717.3 L1075.1,726.7 M1107.5,603.8 L1102.5,668.0 L1100.0,725.5 M1160.0,606.2 L1170.0,668.0 L1175.0,680.5 L1170.0,695.5 L1172.5,710.5 L1175.0,715.5 M1117.5,709.2 L1172.5,709.2 M1116.0,709.0 L1110.0,728.0 M1172.5,715.5 L1235.0,721.8 L1232.5,726.8 L1237.5,715.5 L1247.5,718.0 M1207.5,607.5 L1225.0,630.0 L1240.0,645.0 L1247.5,665.0 L1250.0,668.0 L1260.0,678.0 M1207.5,607.5 L1217.5,602.5 L1257.5,601.2 L1262.5,610.0 L1285.0,610.0 L1307.5,632.5 M1187.5,603.8 L1195.0,595.0 L1212.5,587.5 L1235.0,570.0 L1242.5,562.5 M1065.0,603.8 L1207.5,603.8 M1065.0,603.8 L1067.5,590.0 L1075.0,575.0 L1080.0,562.5 L1085.0,555.0 M1078.0,562.5 L1366.0,561.5 M971.0,564.0 L1058.0,564.0 L1052.0,577.0 L1068.0,577.0 M971.2,550.5 L971.2,495.0 L965.0,482.5 L962.5,475.0 L955.0,467.5 L947.5,457.5 L945.0,450.0 L940.0,432.0 L935.0,417.0 L930.0,402.0 L927.5,387.0 L932.5,379.5 M771.8,392.9 L888.7,392.9 L900.0,399.5 L915.0,398.2 L930.0,402.0 M915.0,235.0 L917.5,254.5 L922.5,272.0 L927.5,297.0 L930.0,314.5 L923.8,324.5 L932.5,332.0 L932.5,379.5 M771.8,315.6 L930.0,315.6 M932.5,379.7 L1043.8,379.7 M1020.0,297.0 L1016.2,314.5 L1007.5,324.5 L1010.0,347.0 L1025.0,357.0 L1040.0,372.0 L1043.8,382.0 L1042.5,397.0 L1055.0,407.0 L1062.5,419.5 L1055.0,434.5 L1047.5,445.0 L1035.0,457.5 L1040.0,482.5 L1055.0,500.0 L1062.5,512.5 L1075.0,532.5 L1085.0,552.5 M945.0,456.4 L1037.0,456.4 M1055.0,405.8 L1117.5,405.8 M1063.8,304.5 L1090.0,314.5 L1110.0,322.0 L1115.0,334.5 M1120.0,428.0 L1120.0,492.5 L1115.0,505.0 L1110.0,527.5 M1085.0,552.5 L1100.0,545.0 L1110.0,530.0 L1125.0,527.5 L1142.5,522.5 L1155.0,520.0 L1167.5,507.5 L1177.5,502.5 L1185.0,495.0 L1189.0,501.0 L1201.5,506.6 L1216.0,505.0 L1225.0,512.0 L1234.0,499.5 L1243.0,490.5 L1257.0,483.0 L1262.5,470.8 L1266.0,460.0 L1266.0,445.0 M1177.5,427.0 L1177.5,502.5 M1120.0,424.5 L1207.5,424.5 M1266.2,419.5 L1266.2,445.0 M1270.0,445.0 L1270.0,479.3 L1367.3,479.3 M1287.5,477.5 L1290.0,495.0 L1310.0,485.0 L1317.5,480.0 L1325.0,492.5 L1335.0,495.0 L1340.0,500.0 L1335.0,515.0 M1225.0,512.0 L1223.0,522.8 L1234.0,537.0 L1241.0,546.0 L1255.0,542.5 L1269.7,537.0 L1280.0,519.0 L1287.6,512.0 L1298.0,505.0 L1309.0,492.0 L1316.0,485.0 M1242.5,545.0 L1225.0,557.5 L1200.0,561.0 M1367.3,479.3 L1367.3,513.0 L1378.5,513.0 M1283.4,412.0 L1283.4,419.3 L1377.9,419.3 L1380.7,430.0 L1387.4,434.5 L1407.6,446.8 M1387.4,434.5 L1385.2,440.1 L1380.7,446.8 L1378.5,455.8 L1383.0,462.5 L1389.7,468.1 L1385.2,472.6 L1378.5,474.8 L1371.7,477.1 L1367.3,479.3 M1417.8,340.5 L1418.8,379.8 L1415.8,419.7 L1413.8,443.7 M1459.7,333.9 L1453.7,347.9 L1447.8,359.9 L1439.8,371.8 L1434.8,399.8 M1465.7,332.9 L1471.7,393.8 M1420.8,400.8 L1461.7,400.8 L1469.7,397.8 M1415.8,419.1 L1459.7,419.1 M1451.8,419.1 L1451.8,437.0 M1459.7,419.7 L1461.0,434.0" fill="none" stroke="#000" stroke-width="4" stroke-linejoin="round" stroke-linecap="round"/>
</svg>
<div class="t title" style="top:28.5px">Spodoptera littoralis: Number of generations w/ climate stress</div>
<div class="t title" style="top:68.3px">exclusions 05/30/2025</div>
<div class="t sub" style="top:124.7px">Maps and modeling 11/20/2025 by Oregon State University IPPC USPEST.ORG and</div>
<div class="t sub" style="top:157.8px">USDA-APHIS-PPQ; climate data from OSU PRISM Climate Group</div>
<div class="t lt" style="top:443.7px">No. of</div>
<div class="t lt" style="top:471.7px">generations</div>
<div class="sw" style="top:507px;background:#4d4d4d"></div>
<div class="sw" style="top:532.4px;background:#0027dd"></div>
<div class="sw" style="top:557.8px;background:#a8241a"></div>
<div class="sw" style="top:583.2px;background:#dcc400"></div>
<div class="sw" style="top:608.6px;background:#258525"></div>
<div class="sw" style="top:634px;height:25.8px;background:#a600a6"></div>
<div class="t lab" style="top:510.1px">excl.-severe</div>
<div class="t lab" style="top:535.5px">0 gens.</div>
<div class="t lab" style="top:560.9px">1 gens.</div>
<div class="t lab" style="top:586.3px">2 gens.</div>
<div class="t lab" style="top:611.7px">3 gens.</div>
<div class="t lab" style="top:637.1px">4 gens.</div>
</body></html>
